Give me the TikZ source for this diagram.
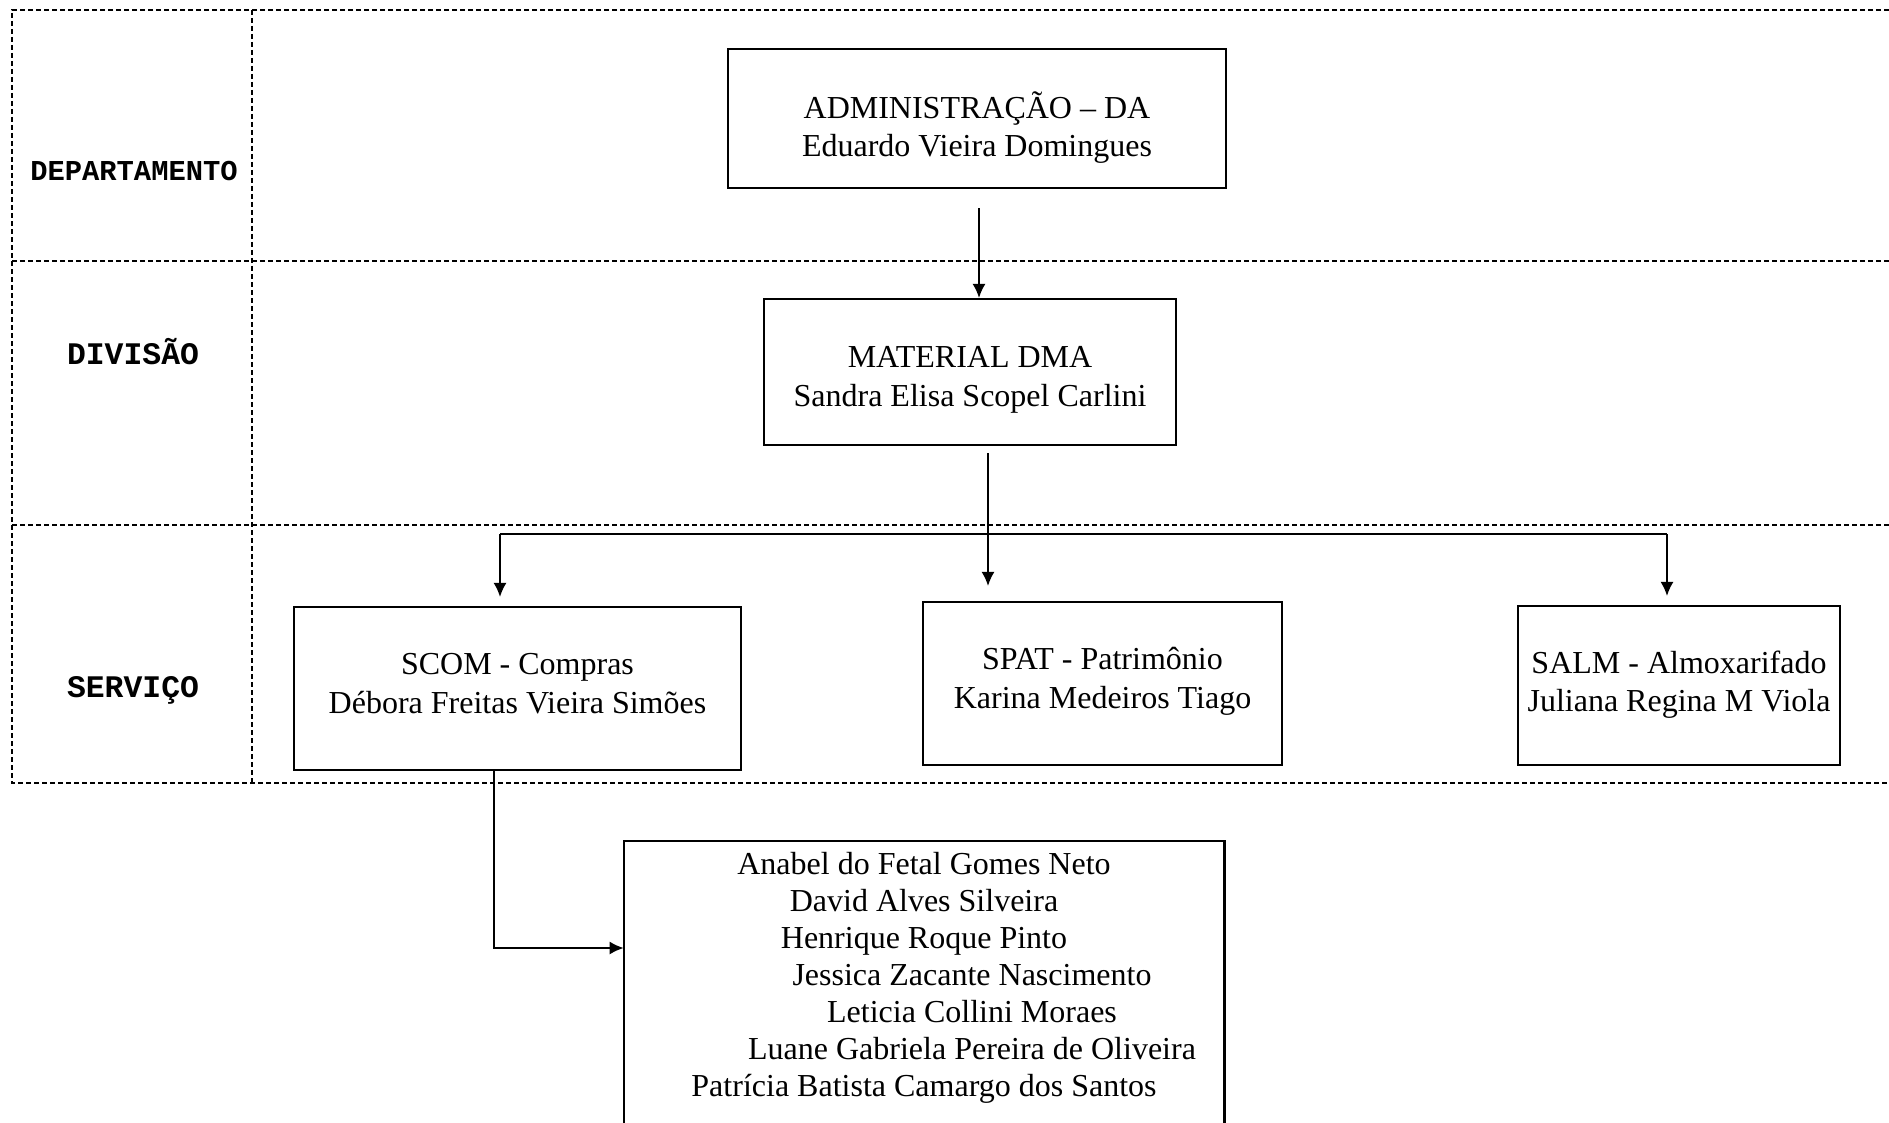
\documentclass[tikz,border=0pt]{standalone}
\usepackage{fontspec}
\setmainfont{Liberation Serif}
\newfontfamily\labelfont{Liberation Mono}
\usetikzlibrary{arrows.meta}
\begin{document}
\begin{tikzpicture}[x=0.5pt,y=-0.5pt,
  grid/.style={line width=0.6pt, dash pattern=on 2.5pt off 1.5pt},
  box/.style={draw, line width=1.1pt, inner sep=0pt},
  txt/.style={align=center, inner sep=0pt, font=\fontsize{16}{19.25}\selectfont},
  lab/.style={inner sep=0pt, font=\labelfont\bfseries\fontsize{15.7}{18}\selectfont},
  arr/.style={line width=0.8pt, -{Latex[length=7pt,width=6.5pt]}},
  ln/.style={line width=0.8pt},
  nm/.style={inner sep=0pt, anchor=base, font=\fontsize{16}{19}\selectfont}
]
\useasboundingbox (0,0) rectangle (1889,1123);
% grid
\draw[grid] (1889,10) -- (12,10) -- (12,783) -- (1889,783);
\draw[grid] (12,261) -- (1889,261);
\draw[grid] (12,525) -- (1889,525);
\draw[grid] (252,10) -- (252,783);
% row labels
\node[lab, font=\labelfont\bfseries\fontsize{14.4}{17}\selectfont] (ldep) at (134,171) {DEPARTAMENTO};
\node[lab] (ldiv) at (133,352) {DIVISÃO};
\node[lab] (lser) at (133,690) {SERVIÇO};
% boxes
\node[box, minimum width=249pt, minimum height=69.5pt] (admin) at (977,118.5) {};
\node[txt, yshift=-4.5pt] (admintxt) at (admin) {ADMINISTRAÇÃO – DA\\Eduardo Vieira Domingues};
\node[box, minimum width=206pt, minimum height=73pt] (material) at (970,372) {};
\node[txt, yshift=-3.9pt] (materialtxt) at (material) {MATERIAL DMA\\Sandra Elisa Scopel Carlini};
\node[box, minimum width=223.5pt, minimum height=81.5pt] (scom) at (517.5,688.5) {};
\node[txt, yshift=2.4pt] (scomtxt) at (scom) {SCOM - Compras\\Débora Freitas Vieira Simões};
\node[box, minimum width=179.5pt, minimum height=81.5pt] (spat) at (1102.5,683.5) {};
\node[txt, yshift=1pt] (spattxt) at (spat) {SPAT - Patrimônio\\Karina Medeiros Tiago};
\node[box, minimum width=161pt, minimum height=79.5pt] (salm) at (1679,685.5) {};
\node[txt, yshift=0.3pt] (salmtxt) at (salm) {SALM - Almoxarifado\\Juliana Regina M Viola};
% team box (open at the bottom edge)
\node[minimum width=300pt, minimum height=141pt, inner sep=0pt] (team) at (924,982) {};
\draw[line width=1.1pt] (team.south west) -- (team.north west) -- (team.north east) -- (team.south east);
\node[nm] (n1) at (924,874) {Anabel do Fetal Gomes Neto};
\node[nm] (n2) at (924,911) {David Alves Silveira};
\node[nm] (n3) at (924,948) {Henrique Roque Pinto};
\node[nm] (n4) at (972,985) {Jessica Zacante Nascimento};
\node[nm] (n5) at (972,1022) {Leticia Collini Moraes};
\node[nm] (n6) at (972,1059) {Luane Gabriela Pereira de Oliveira};
\node[nm] (n7) at (924,1096) {Patrícia Batista Camargo dos Santos};
% connectors
\coordinate (ax) at (979,0);
\draw[arr, shorten <=9.5pt] (admin.south -| ax) -- (material.north -| ax);
\coordinate (bus) at (988,534);
\coordinate (bl) at (500,534);
\coordinate (br) at (1667,534);
\draw[arr, shorten <=3.5pt, shorten >=7.5pt] (material.south -| bus) -- (spat.north -| bus);
\draw[ln] (bl) -- (br);
\draw[arr, shorten >=4.5pt] (bl) -- (scom.north -| bl);
\draw[arr, shorten >=4.5pt] (br) -- (salm.north -| br);
\coordinate (j) at (494,948);
\draw[arr] (scom.south -| j) -- (j) -- (team.west |- j);
\end{tikzpicture}
\end{document}
